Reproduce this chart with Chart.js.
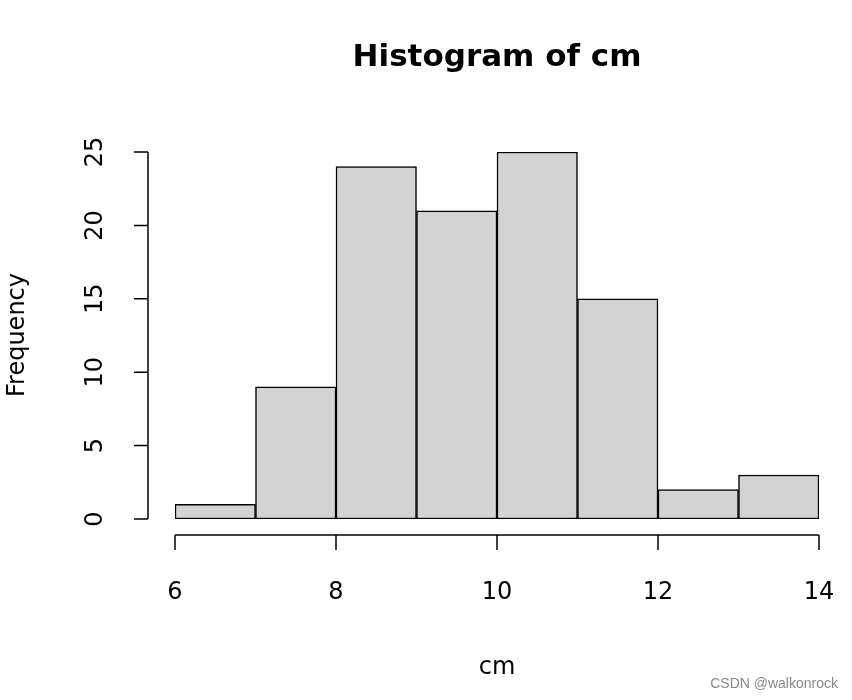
<!DOCTYPE html>
<html><head><meta charset="utf-8">
<script src="https://cdn.jsdelivr.net/npm/chart.js@4/dist/chart.umd.min.js"></script>
<style>html,body{margin:0;padding:0;background:#fff}#c{display:block}</style>
</head><body>
<canvas id="c" width="852" height="700"></canvas>
<script>
const binStarts = [6, 7, 8, 9, 10, 11, 12, 13];
const frequencies = [1, 9, 24, 21, 25, 15, 2, 3];
const xTicks = [6, 8, 10, 12, 14];
const yTicks = [0, 5, 10, 15, 20, 25];

const rAxes = {
  id: 'rAxes',
  afterDraw(chart) {
    const ctx = chart.ctx, x = chart.scales.x, y = chart.scales.y;
    ctx.save();
    ctx.strokeStyle = '#000'; ctx.fillStyle = '#000'; ctx.lineWidth = 1.5;
    const ax = 148, ay = 535;
    ctx.beginPath();
    ctx.moveTo(ax, y.getPixelForValue(yTicks[0])); ctx.lineTo(ax, y.getPixelForValue(yTicks[yTicks.length-1]));
    yTicks.forEach(v => { const p = y.getPixelForValue(v); ctx.moveTo(ax, p); ctx.lineTo(ax-14, p); });
    ctx.moveTo(x.getPixelForValue(xTicks[0]), ay); ctx.lineTo(x.getPixelForValue(xTicks[xTicks.length-1]), ay);
    xTicks.forEach(v => { const p = x.getPixelForValue(v); ctx.moveTo(p, ay); ctx.lineTo(p, ay+15); });
    ctx.stroke();
    ctx.font = '24px "DejaVu Sans", sans-serif';
    ctx.textAlign = 'center'; ctx.textBaseline = 'middle';
    xTicks.forEach(v => ctx.fillText(String(v), x.getPixelForValue(v), 593));
    yTicks.forEach(v => { ctx.save(); ctx.translate(96, y.getPixelForValue(v)); ctx.rotate(-Math.PI/2); ctx.fillText(String(v), 0, 0); ctx.restore(); });
    ctx.fillText('cm', 497, 668);
    ctx.save(); ctx.translate(18, 335); ctx.rotate(-Math.PI/2); ctx.fillText('Frequency', 0, 0); ctx.restore();
    ctx.font = 'bold 31px "DejaVu Sans", sans-serif';
    ctx.fillText('Histogram of cm', 497, 58);
    ctx.font = '14px "Liberation Sans", Arial, sans-serif';
    ctx.fillStyle = '#888'; ctx.textAlign = 'right';
    ctx.fillText('CSDN @walkonrock', 838, 684);
    ctx.restore();
  }
};

new Chart(document.getElementById('c'), {
  type: 'bar',
  data: { datasets: [{
    data: binStarts.map((s, i) => ({ x: s + 0.5, y: frequencies[i] })),
    backgroundColor: '#d3d3d3', borderColor: '#000', borderWidth: 1.5, borderSkipped: false,
    barPercentage: 1, categoryPercentage: 1
  }]},
  options: {
    responsive: false, animation: false,
    layout: { padding: { left: 175, right: 33, top: 152, bottom: 181 } },
    plugins: { legend: { display: false }, tooltip: { enabled: false } },
    scales: {
      x: { type: 'linear', min: 6, max: 14, offset: false, display: false },
      y: { min: 0, max: 25, display: false }
    }
  },
  plugins: [rAxes]
});
</script>
</body></html>
